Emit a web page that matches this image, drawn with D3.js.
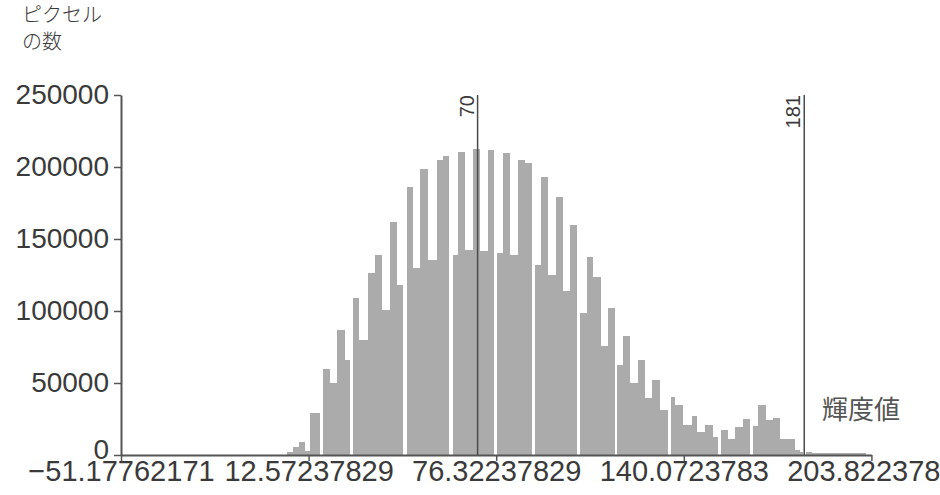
<!DOCTYPE html>
<html><head><meta charset="utf-8">
<script src="https://cdn.jsdelivr.net/npm/d3@7"></script>
<style>body{margin:0;background:#fff;overflow:hidden} svg{display:block}</style>
</head><body><svg id="c" width="940" height="495"></svg>
<script>
// brightness bin edges (n+1) and pixel counts (n); zero = empty bin
const binEdges = [5.2,7.3,9.3,11.3,13.0,14.7,16.4,17.5,19.8,22.2,
  24.9,26.6,27.7,29.7,32.8,35.1,37.5,40.2,42.6,44.6,
  46.0,48.0,50.4,53.1,56.2,58.2,60.3,61.6,63.3,65.7,
  68.4,70.8,73.5,75.6,76.6,78.6,81.0,83.7,86.1,88.5,
  89.5,91.5,93.9,96.6,99.0,101.4,103.8,104.8,107.2,109.2,
  111.9,114.3,116.7,117.4,119.4,121.8,124.5,126.9,129.3,132.0,
  134.7,135.7,137.1,139.8,142.8,144.5,147.3,150.0,151.7,152.7,
  155.1,157.5,160.2,162.6,163.6,165.3,168.0,170.4,172.7,175.5,
  177.8,179.5,180.6,181.6,183.6,202.0];
const pixelCounts = [2300,5300,9300,3000,29400,29400,0,59500,49800,86800,
  66000,0,108800,79900,126600,138900,100700,162000,118000,0,
  186300,129600,198400,135400,204900,207600,0,138900,210600,142400,
  212300,141600,212000,0,140000,210000,139000,205000,203000,0,
  132000,193000,125000,179000,114000,159500,0,98700,137700,123500,
  75400,102000,0,62700,82400,49900,66000,39500,52200,31300,
  0,40600,34800,20900,27400,16200,20900,12700,0,17400,
  10900,19700,24900,0,20200,34800,24400,25500,10900,10900,
  3500,2000,0,1800,1100];
const yTickValues = [0,50000,100000,150000,200000,250000];
const xTickValues = [-51.17762171,12.57237829,76.32237829,140.0723783,203.8223783];
const xTickLabels = ["\u221251.17762171","12.57237829","76.32237829","140.0723783","203.8223783"];
const thresholds = [70,181];
const yTitle = ["ピクセル","の数"];
const xTitle = "輝度値";

const svg = d3.select('#c');
const x = d3.scaleLinear().domain([-51.17762171,203.8223783]).range([121,871.4]);
const y = d3.scaleLinear().domain([0,250000]).range([455,95]);
const axisColor = '#555', textColor = '#3a3a3a';
const font = 'Liberation Sans, Arial, sans-serif';

const bins = pixelCounts.map((c,i)=>({x0:binEdges[i],x1:binEdges[i+1],c}));
svg.append('g').attr('shape-rendering','crispEdges')
  .selectAll('rect').data(bins.filter(d=>d.c>0)).join('rect')
  .attr('x',d=>x(d.x0)).attr('width',d=>x(d.x1)-x(d.x0))
  .attr('y',d=>y(d.c)).attr('height',d=>y(0)-y(d.c))
  .attr('fill','#ababab');

// threshold lines
svg.append('g').selectAll('line').data(thresholds).join('line')
  .attr('x1',d=>x(d)).attr('x2',d=>x(d)).attr('y1',y(250000)).attr('y2',y(0))
  .attr('stroke','#4a4a4a').attr('stroke-width',1.5);
svg.append('g').selectAll('text').data(thresholds).join('text')
  .attr('transform',d=>`translate(${x(d)-4},${y(250000)}) rotate(-90)`)
  .attr('text-anchor','end').attr('font-family',font)
  .attr('font-size',20).attr('fill',textColor).text(d=>d);

// y axis
const ya = svg.append('g').attr('transform',`translate(${x(-51.17762171)},0)`)
  .call(d3.axisLeft(y).tickValues(yTickValues).tickFormat(d3.format('d')).tickSize(7).tickSizeOuter(0).tickPadding(5));
ya.select('.domain').attr('stroke',axisColor).attr('stroke-width',2);
ya.selectAll('.tick line').attr('stroke',axisColor).attr('stroke-width',1.5);
ya.selectAll('.tick text').attr('font-family',font).attr('font-size',28).attr('fill',textColor)
  .attr('dy',d=> d===0 ? '0.12em' : '0.32em');

// x axis
const xa = svg.append('g').attr('transform',`translate(0,${y(0)})`)
  .call(d3.axisBottom(x).tickValues(xTickValues).tickFormat((d,i)=>xTickLabels[i]).tickSize(6).tickSizeOuter(0).tickPadding(-1));
xa.select('.domain').attr('stroke',axisColor).attr('stroke-width',2);
xa.selectAll('.tick line').attr('stroke',axisColor).attr('stroke-width',1.5);
xa.selectAll('.tick text').attr('font-family',font).attr('font-size',29).attr('fill',textColor)
  .attr('text-anchor','middle');

// titles
svg.append('g').selectAll('text').data(yTitle).join('text')
  .attr('x',22).attr('y',(d,i)=>22+i*27)
  .attr('font-family','Noto Sans CJK JP').attr('font-weight',300).attr('font-size',20).attr('fill',textColor).text(d=>d);
svg.append('text').attr('x',822).attr('y',419)
  .attr('font-family','Noto Sans CJK JP').attr('font-size',26).attr('fill','#555').text(xTitle);
</script></body></html>
